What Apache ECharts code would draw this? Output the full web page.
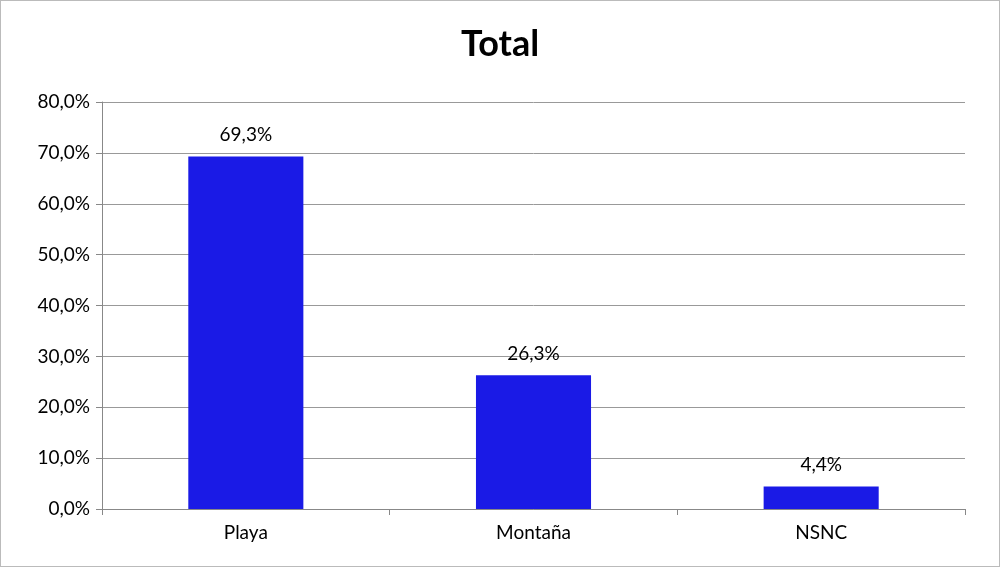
<!DOCTYPE html>
<html><head><meta charset="utf-8">
<script src="https://cdn.jsdelivr.net/npm/echarts@6/dist/echarts.min.js"></script>
<style>html,body{margin:0;padding:0;background:#fff}#c{width:1000px;height:567px;box-sizing:border-box;border:1px solid #bbb}</style>
</head><body><div id="c"></div>
<script>
const categories = ["Playa", "Montaña", "NSNC"];
const values = [69.3, 26.3, 4.4];
const chart = echarts.init(document.getElementById('c'));
const fmt = v => v.toFixed(1).replace('.', ',');
chart.setOption({
  animation: false,
  title: { text: 'Total', left: 'center', top: 20, textStyle: { fontFamily: 'Lato', fontSize: 36, fontWeight: 'bold', color: '#000' } },
  grid: { left: 101, right: 34, top: 101, bottom: 57 },
  xAxis: { type: 'category', data: categories,
    axisLine: { lineStyle: { color: '#888' } },
    axisTick: { show: true, alignWithLabel: false, lineStyle: { color: '#888' }, length: 6 },
    axisLabel: { color: '#000', fontFamily: 'Lato', fontSize: 19, margin: 14 } },
  yAxis: { type: 'value', min: 0, max: 80, interval: 10,
    axisLine: { show: true, lineStyle: { color: '#888' } },
    axisTick: { show: true, length: 6, lineStyle: { color: '#888' } },
    splitLine: { lineStyle: { color: '#999' } },
    axisLabel: { color: '#000', fontFamily: 'Lato', fontSize: 19, margin: 12, formatter: v => fmt(v) + '%' } },
  series: [{ type: 'bar', data: values, barWidth: '40%',
    itemStyle: { color: '#1a1ae6' },
    label: { show: true, position: 'top', distance: 12, color: '#000', fontFamily: 'Lato', fontSize: 19, formatter: p => fmt(p.value) + '%' } }]
});
</script></body></html>
